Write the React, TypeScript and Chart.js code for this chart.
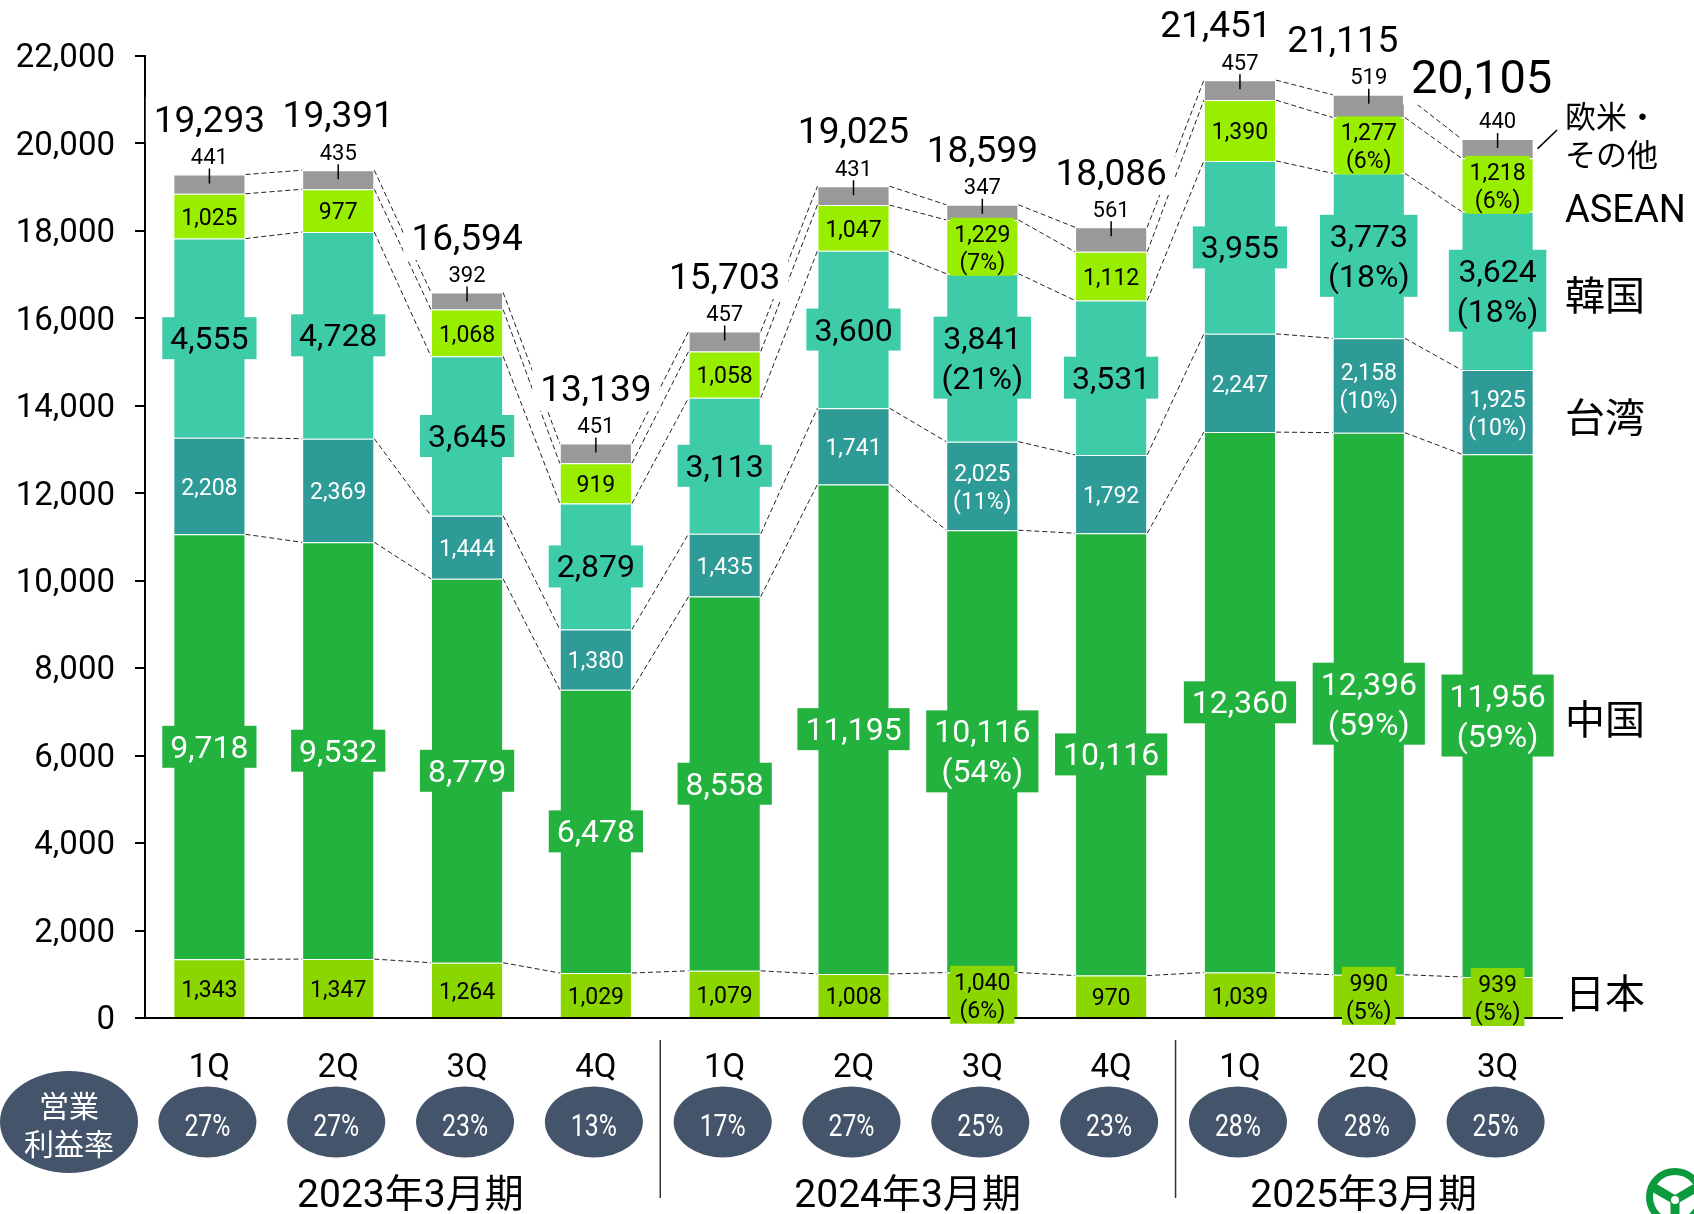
import React, { useEffect, useRef } from 'react';
import { Chart, registerables } from 'chart.js';

Chart.register(...registerables);

// ---------- data ----------
const quarters = ['1Q', '2Q', '3Q', '4Q', '1Q', '2Q', '3Q', '4Q', '1Q', '2Q', '3Q'];
const fiscalYears = ['2023年3月期', '2024年3月期', '2025年3月期'];
const regionNames = ['日本', '中国', '台湾', '韓国', 'ASEAN', '欧米・その他'];

const japan = [1343, 1347, 1264, 1029, 1079, 1008, 1040, 970, 1039, 990, 939];
const china = [9718, 9532, 8779, 6478, 8558, 11195, 10116, 10116, 12360, 12396, 11956];
const taiwan = [2208, 2369, 1444, 1380, 1435, 1741, 2025, 1792, 2247, 2158, 1925];
const korea = [4555, 4728, 3645, 2879, 3113, 3600, 3841, 3531, 3955, 3773, 3624];
const asean = [1025, 977, 1068, 919, 1058, 1047, 1229, 1112, 1390, 1277, 1218];
const others = [441, 435, 392, 451, 457, 431, 347, 561, 457, 519, 440];
const totals = [19293, 19391, 16594, 13139, 15703, 19025, 18599, 18086, 21451, 21115, 20105];

const japanPct = [null, null, null, null, null, null, 6, null, null, 5, 5];
const chinaPct = [null, null, null, null, null, null, 54, null, null, 59, 59];
const taiwanPct = [null, null, null, null, null, null, 11, null, null, 10, 10];
const koreaPct = [null, null, null, null, null, null, 21, null, null, 18, 18];
const aseanPct = [null, null, null, null, null, null, 7, null, null, 6, 6];

const operatingMargins = [27, 27, 23, 13, 17, 27, 25, 23, 28, 28, 25];

const yMax = 22000;
const yStep = 2000;

// ---------- styles ----------
const COLORS = ['#8CD600', '#24B23F', '#2E9B97', '#3DCCA7', '#99EE00', '#999999'];
const NUM_FONT = 'Roboto, "Noto Sans CJK JP", sans-serif';
const JP_FONT = '"Noto Sans CJK JP", Roboto, sans-serif';
const TY = 3; // vertical text nudge

const fmt = (n: number) => n.toLocaleString('en-US');

type LabelStyle = { size: number; lh: number; color: string; padX: number; padY: number };
const SMALL_BLACK: LabelStyle = { size: 23, lh: 28, color: '#000', padX: 4, padY: 1 };
const SMALL_WHITE: LabelStyle = { size: 23, lh: 28, color: '#fff', padX: 4, padY: 1 };
const BIG_BLACK: LabelStyle = { size: 32, lh: 40, color: '#000', padX: 8, padY: 1 };
const BIG_WHITE: LabelStyle = { size: 32, lh: 40, color: '#fff', padX: 8, padY: 1 };

function drawBoxLabel(
  ctx: CanvasRenderingContext2D,
  cx: number,
  cy: number,
  lines: string[],
  st: LabelStyle,
  bg: string | null,
  family = NUM_FONT
) {
  ctx.font = `${st.size}px ${family}`;
  const w = Math.max(...lines.map((l) => ctx.measureText(l).width));
  const h = lines.length * st.lh;
  if (bg) {
    ctx.fillStyle = bg;
    ctx.fillRect(cx - w / 2 - st.padX, cy - h / 2 - st.padY, w + 2 * st.padX, h + 2 * st.padY);
  }
  ctx.fillStyle = st.color;
  ctx.textAlign = 'center';
  ctx.textBaseline = 'middle';
  lines.forEach((l, k) => ctx.fillText(l, cx, cy - h / 2 + st.lh * (k + 0.5) + TY));
}

const customPlugin = {
  id: 'customDecor',
  afterDatasetsDraw(chart: any) {
    const ctx: CanvasRenderingContext2D = chart.ctx;
    const xs = chart.scales.x;
    const n = quarters.length;
    const metas = [0, 1, 2, 3, 4, 5].map((s) => chart.getDatasetMeta(s).data);

    // dashed connectors between bars
    ctx.save();
    ctx.setLineDash([5, 3]);
    ctx.lineWidth = 1;
    ctx.strokeStyle = '#222';
    for (let i = 0; i < n - 1; i++) {
      for (let s = 0; s < 6; s++) {
        const a = metas[s][i];
        const b = metas[s][i + 1];
        ctx.beginPath();
        ctx.moveTo(a.x + a.width / 2, a.y);
        ctx.lineTo(b.x - b.width / 2, b.y);
        ctx.stroke();
      }
    }
    ctx.restore();

    // segment labels
    const series = [japan, china, taiwan, korea, asean];
    const pcts = [japanPct, chinaPct, taiwanPct, koreaPct, aseanPct];
    const styles = [SMALL_BLACK, BIG_WHITE, SMALL_WHITE, BIG_BLACK, SMALL_BLACK];
    ctx.save();
    for (let s = 0; s < 5; s++) {
      for (let i = 0; i < n; i++) {
        const el = metas[s][i];
        const cy = (el.y + el.base) / 2;
        const lines = [fmt(series[s][i])];
        const p = pcts[s][i];
        if (p !== null && p !== undefined) lines.push(`(${p}%)`);
        drawBoxLabel(ctx, el.x, cy, lines, styles[s], COLORS[s]);
      }
    }
    ctx.restore();

    // others label + leader, totals
    const totalShiftX = [0, 0, 0, 0, 0, 0, 0, 0, -24, -26, -16];
    ctx.save();
    for (let i = 0; i < n; i++) {
      const el = metas[5][i];
      const top = el.y;
      ctx.strokeStyle = '#000';
      ctx.lineWidth = 1.5;
      ctx.beginPath();
      ctx.moveTo(el.x, top - 6);
      ctx.lineTo(el.x, top + 9);
      ctx.stroke();
      ctx.font = `22px ${NUM_FONT}`;
      ctx.fillStyle = '#000';
      ctx.textAlign = 'center';
      ctx.textBaseline = 'middle';
      ctx.fillText(fmt(others[i]), el.x, top - 19 + TY);
      const big = i === n - 1;
      const size = big ? 47 : 37;
      const cy = top - (big ? 61 : 55);
      const cx = el.x + totalShiftX[i];
      ctx.font = `${size}px ${NUM_FONT}`;
      const t = fmt(totals[i]);
      const w = ctx.measureText(t).width;
      ctx.fillStyle = '#fff';
      ctx.fillRect(cx - w / 2 - 8, cy - size * 0.42 - 7, w + 16, size * 0.84 + 14);
      ctx.fillStyle = '#000';
      ctx.fillText(t, cx, cy + TY);
    }
    ctx.restore();

    // right-side region labels
    ctx.save();
    ctx.fillStyle = '#000';
    ctx.textAlign = 'left';
    ctx.textBaseline = 'middle';
    const lx = 1565;
    ctx.font = `31px ${JP_FONT}`;
    ctx.fillText('欧米・', lx, 116);
    ctx.fillText('その他', lx, 154);
    ctx.font = `38px ${NUM_FONT}`;
    ctx.fillText(regionNames[4], lx, 209 + TY);
    ctx.font = `40px ${JP_FONT}`;
    ctx.fillText(regionNames[3], lx, 295);
    ctx.fillText(regionNames[2], lx, 417);
    ctx.fillText(regionNames[1], lx, 719);
    ctx.fillText(regionNames[0], lx, 993);
    const lastOther = metas[5][n - 1];
    ctx.strokeStyle = '#000';
    ctx.lineWidth = 1.5;
    ctx.beginPath();
    ctx.moveTo(lastOther.x + lastOther.width / 2 + 4, (lastOther.y + lastOther.base) / 2);
    ctx.lineTo(1557, 130);
    ctx.stroke();
    ctx.restore();

    // x labels, margin ellipses, dividers, fiscal years
    ctx.save();
    ctx.textAlign = 'center';
    ctx.textBaseline = 'middle';
    for (let i = 0; i < n; i++) {
      const cx = xs.getPixelForValue(i);
      ctx.fillStyle = '#000';
      ctx.font = `33px ${NUM_FONT}`;
      ctx.fillText(quarters[i], cx, 1066 + TY);
      ctx.fillStyle = '#44546A';
      ctx.beginPath();
      ctx.ellipse(cx - 2, 1122, 49, 35.5, 0, 0, Math.PI * 2);
      ctx.fill();
      ctx.save();
      ctx.translate(cx - 2, 1125 + TY);
      ctx.scale(0.8, 1);
      ctx.fillStyle = '#fff';
      ctx.font = `31px ${NUM_FONT}`;
      ctx.fillText(`${operatingMargins[i]}%`, 0, 0);
      ctx.restore();
    }
    ctx.fillStyle = '#44546A';
    ctx.beginPath();
    ctx.ellipse(69, 1122, 69, 51, 0, 0, Math.PI * 2);
    ctx.fill();
    ctx.fillStyle = '#fff';
    ctx.font = `30px ${JP_FONT}`;
    ctx.fillText('営業', 69, 1106);
    ctx.fillText('利益率', 69, 1144);
    ctx.strokeStyle = '#333';
    ctx.lineWidth = 1.5;
    [3.5, 7.5].forEach((v) => {
      const px = xs.getPixelForValue(v);
      ctx.beginPath();
      ctx.moveTo(px, 1040);
      ctx.lineTo(px, 1198);
      ctx.stroke();
    });
    ctx.fillStyle = '#000';
    ctx.font = `39px ${NUM_FONT}`;
    [1.56, 5.42, 8.96].forEach((v, k) => {
      ctx.fillText(fiscalYears[k], xs.getPixelForValue(v), 1197);
    });
    // logo
    ctx.strokeStyle = '#0B9A3C';
    ctx.lineWidth = 7;
    ctx.beginPath();
    ctx.arc(1675, 1197, 25.5, 0, Math.PI * 2);
    ctx.stroke();
    ctx.lineWidth = 9;
    ctx.lineCap = 'round';
    [Math.PI * 0.5, Math.PI * 1.17, Math.PI * 1.83].forEach((a) => {
      ctx.beginPath();
      ctx.moveTo(1675, 1200);
      ctx.lineTo(1675 + Math.cos(a) * 22, 1200 + Math.sin(a) * 22);
      ctx.stroke();
    });
    ctx.fillStyle = '#fff';
    ctx.beginPath();
    ctx.arc(1675, 1200, 4, 0, Math.PI * 2);
    ctx.fill();
    ctx.restore();
  },
};

export default function App() {
  const ref = useRef<HTMLCanvasElement | null>(null);

  useEffect(() => {
    if (!ref.current) return;
    const seriesList = [japan, china, taiwan, korea, asean, others];
    const chart = new Chart(ref.current, {
      type: 'bar',
      data: {
        labels: quarters,
        datasets: seriesList.map((d, s) => ({
          label: regionNames[s],
          data: d,
          backgroundColor: COLORS[s],
          borderColor: 'rgba(255,255,255,0.35)',
          borderWidth: 1,
          stack: 'a',
          barPercentage: 0.56,
          categoryPercentage: 1,
        })),
      },
      options: {
        responsive: false,
        animation: false,
        devicePixelRatio: 1,
        layout: { padding: { left: 0, top: 56, right: 132, bottom: 196 } },
        plugins: { legend: { display: false }, tooltip: { enabled: false } },
        scales: {
          x: {
            stacked: true,
            grid: { display: false, drawTicks: false },
            border: { display: true, color: '#000', width: 2 },
            ticks: { display: false },
            afterFit: (s: any) => {
              s.height = 0;
            },
          },
          y: {
            stacked: true,
            min: 0,
            max: yMax,
            grid: { drawOnChartArea: false, drawTicks: true, tickLength: 10, color: '#000', lineWidth: 2 },
            border: { display: true, color: '#000', width: 2 },
            ticks: {
              stepSize: yStep,
              padding: 20,
              labelOffset: 3,
              color: '#000',
              font: { family: NUM_FONT, size: 33 },
              callback: (v: any) => fmt(Number(v)),
            },
            afterFit: (s: any) => {
              s.width = 145;
            },
          },
        },
      },
      plugins: [customPlugin],
    });
    return () => chart.destroy();
  }, []);

  return (
    <div style={{ position: 'absolute', left: 0, top: 0, width: 1694, height: 1214, background: '#fff' }}>
      <canvas ref={ref} width={1694} height={1214} style={{ width: 1694, height: 1214, display: 'block' }} />
    </div>
  );
}
